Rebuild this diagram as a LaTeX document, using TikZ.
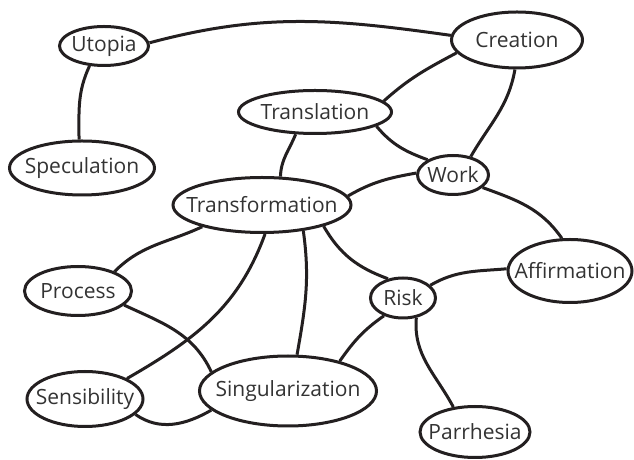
\documentclass[tikz,border=0pt]{standalone}
\usepackage{fontspec}
\setmainfont{Open Sans}
\usetikzlibrary{shapes.geometric}
\definecolor{ln}{HTML}{231F20}
\definecolor{tx}{HTML}{333333}
\begin{document}
\begin{tikzpicture}[x=1pt,y=1pt,
  concept/.style={ellipse,draw=ln,line width=3pt,inner sep=0pt,
    label={[text=tx,font=\fontsize{21}{25}\selectfont,inner sep=0pt]center:#1}},
  link/.style={draw=ln,line width=3pt}]
\useasboundingbox (0,0) rectangle (634,460);
\node[concept=Utopia,minimum width=89,minimum height=39] (uto) at (104,414) {};
\node[concept=Creation,minimum width=131,minimum height=56] (cre) at (517,420) {};
\node[concept=Translation,minimum width=153,minimum height=43] (tra) at (315,348) {};
\node[concept=Speculation,minimum width=145,minimum height=54] (spe) at (82,292) {};
\node[concept=Transformation,minimum width=178,minimum height=55] (tfm) at (262,255) {};
\node[concept=Work,minimum width=71,minimum height=39] (wor) at (453,285) {};
\node[concept=Process,minimum width=107,minimum height=49] (pro) at (78,169) {};
\node[concept=Sensibility,minimum width=116,minimum height=55] (sen) at (85,61) {};
\node[concept=Singularization,minimum width=177,minimum height=70] (sin) at (288,69) {};
\node[concept=Risk,minimum width=65,minimum height=40] (ris) at (403,162) {};
\node[concept=Affirmation,minimum width=124,minimum height=63] (aff) at (570,189) {};
\node[concept=Parrhesia,minimum width=110,minimum height=51] (par) at (475,28) {};

\draw[link] (uto.4) to[out=15,in=172] (cre.176);
\draw[link] (uto.234) to[out=245,in=90] (spe.96);
\draw[link] (tra.9) to[out=42,in=208] (cre.192);
\draw[link] (tra.347) to[out=-50,in=160] (wor.149);
\draw[link] (cre.266) to[out=-100,in=60] (wor.46);
\draw[link] (tra.229) to[out=-112,in=88] (tfm.57);
\draw[link] (tfm.6.5) to[out=30,in=190] (wor.177);
\draw[link] (wor.337) to[out=-20,in=125] (aff.104);
\draw[link] (tfm.200) to[out=205,in=45] (pro.28);
\draw[link] (tfm.276) to[out=-110,in=30] (sen.26.6);
\draw[link] (tfm.328) to[out=-82,in=80] (sin.76);
\draw[link] (tfm.341) to[out=-60,in=160] (ris.128);
\draw[link] (pro.343) to[out=-25,in=115] (sin.166);
\draw[link] (sen.343) to[out=-35,in=210] (sin.194.5);
\draw[link] (ris.223.5) to[out=215,in=55] (sin.30.5);
\draw[link] (ris.25) to[out=30,in=185] (aff.178);
\draw[link] (ris.304) to[out=-95,in=118] (par.131.5);
\end{tikzpicture}
\end{document}
